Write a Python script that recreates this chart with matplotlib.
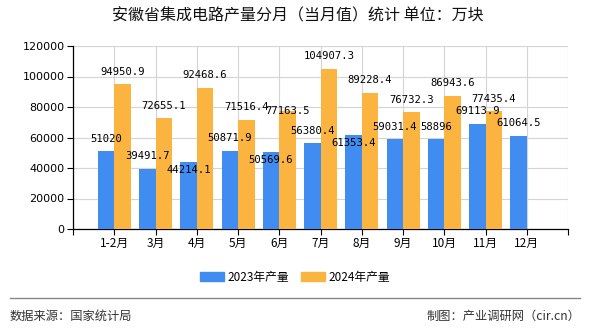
import matplotlib
matplotlib.use("Agg")
import matplotlib.pyplot as plt
from matplotlib.patches import Patch
from matplotlib.lines import Line2D

plt.rcParams['font.family'] = ['Noto Sans CJK SC', 'DejaVu Sans']

categories = ['1-2月', '3月', '4月', '5月', '6月', '7月', '8月', '9月', '10月', '11月', '12月']
vals_2023 = [51020, 39491.7, 44214.1, 50871.9, 50569.6, 56380.4, 61353.4, 59031.4, 58896, 69113.9, 61064.5]
vals_2024 = [94950.9, 72655.1, 92468.6, 71516.4, 77163.5, 104907.3, 89228.4, 76732.3, 86943.6, 77435.4]
series_names = ['2023年产量', '2024年产量']
yticks = [0, 20000, 40000, 60000, 80000, 100000, 120000]

# label vertical offsets (pixels) mimicking the reference's overlap avoidance
off_2023 = [12, 13, -8, 13, -8, 12, -8, 12, 12, 13, 13]
off_2024 = [12, 12, 13, 13, 0, 13, 13, 12, 13, 12]

c_blue = '#418cf0'
c_orange = '#fbb43f'

fig = plt.figure(figsize=(5.9, 3.3), dpi=100)
ax = fig.add_axes([73/590, 1-229/330, (568-73)/590, (229-46)/330])

w = 0.4
x1 = [i - w/2 for i in range(len(vals_2023))]
x2 = [i + w/2 for i in range(len(vals_2024))]
b1 = ax.bar(x1, vals_2023, width=w, color=c_blue, zorder=3)
b2 = ax.bar(x2, vals_2024, width=w, color=c_orange, zorder=3)

def fmt(v):
    s = f"{v:.1f}"
    if s.endswith('.0'):
        s = s[:-2]
    return s

for bars, vals, offs in ((b1, vals_2023, off_2023), (b2, vals_2024, off_2024)):
    for r, v, o in zip(bars, vals, offs):
        ax.annotate(fmt(v), (r.get_x() + r.get_width()/2, r.get_height()),
                    xytext=(0, o), textcoords='offset pixels',
                    ha='center', va='center', fontsize=7.6,
                    family='DejaVu Sans Mono', color='black', zorder=5)

ax.set_xlim(-1, len(categories))
ax.set_ylim(0, 120000)
ax.set_yticks(yticks)
ax.set_yticklabels([str(t) for t in yticks], fontsize=8, family='DejaVu Sans')
xt = list(range(-1, len(categories) + 1))
ax.set_xticks(xt)
ax.set_xticklabels([''] + categories + [''], fontsize=8.5)
ax.tick_params(axis='x', length=4, width=0.8, color='black', pad=2)
ax.tick_params(axis='y', length=4, width=0.8, color='black', pad=2)
ax.grid(True, color='#d4d4d4', linewidth=0.8, zorder=0)
ax.set_axisbelow(True)
for s in ['top', 'right']:
    ax.spines[s].set_visible(False)
ax.spines['left'].set_color('black')
ax.spines['bottom'].set_color('black')
ax.spines['left'].set_linewidth(0.9)
ax.spines['bottom'].set_linewidth(0.9)

fig.text(0.505, 1-16/330, '安徽省集成电路产量分月（当月值）统计 单位：万块',
         ha='center', va='center', fontsize=11.5, color='#111111')

handles = [Patch(color=c_blue), Patch(color=c_orange)]
fig.legend(handles, series_names, loc='center', bbox_to_anchor=(0.5, 1-277/330),
           ncol=2, frameon=False, fontsize=8.5, handlelength=2.0, handleheight=0.9,
           handletextpad=0.3, columnspacing=1.0)

fig.add_artist(Line2D([10/590, 580/590], [1-298/330, 1-298/330], color='#888888', linewidth=1.0))
fig.text(10/590, 1-316/330, '数据来源：国家统计局', ha='left', va='center', fontsize=8.8, color='#333333')
fig.text(580/590, 1-316/330, '制图：产业调研网（cir.cn）', ha='right', va='center', fontsize=8.8, color='#333333')

fig.savefig('out.png', dpi=100)
